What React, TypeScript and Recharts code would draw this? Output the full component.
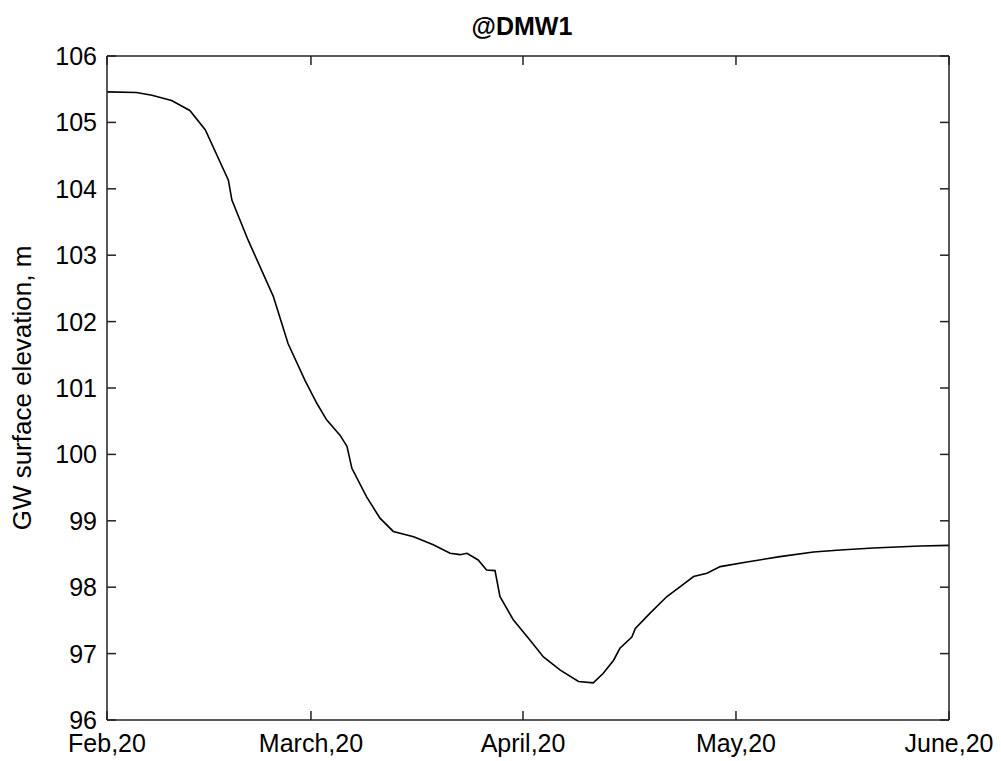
import React from 'react';
import { LineChart, Line, XAxis, YAxis } from 'recharts';

// x in days from "Feb,20" (axis spans 0..120)
const dayOffsets = [0, 4.2, 6.4, 9.2, 11.8, 14.0, 17.3, 17.8, 20.1, 23.7, 25.8, 28.2, 29.9, 31.3, 33.2, 34.2, 34.9, 37.0, 38.9, 40.8, 43.7, 46.5, 48.9, 50.3, 51.3, 52.9, 54.1, 55.3, 56.0, 57.9, 60.3, 62.2, 64.6, 67.2, 69.3, 70.7, 72.2, 73.1, 74.8, 75.3, 77.4, 79.8, 81.7, 83.6, 85.5, 87.4, 91.2, 95.9, 100.7, 104.5, 109.2, 115.9, 120];
const elevations = [105.46, 105.45, 105.41, 105.33, 105.18, 104.89, 104.13, 103.83, 103.23, 102.38, 101.67, 101.12, 100.77, 100.52, 100.29, 100.12, 99.79, 99.36, 99.04, 98.84, 98.76, 98.64, 98.51, 98.49, 98.51, 98.41, 98.26, 98.25, 97.86, 97.51, 97.20, 96.95, 96.75, 96.58, 96.56, 96.70, 96.90, 97.08, 97.25, 97.38, 97.61, 97.86, 98.01, 98.16, 98.21, 98.31, 98.38, 98.46, 98.53, 98.56, 98.59, 98.62, 98.63];

const xTickValues = [0, 29.07, 59.29, 89.64, 120];
const xTickLabels = ['Feb,20', 'March,20', 'April,20', 'May,20', 'June,20'];
const yTicks = [96, 97, 98, 99, 100, 101, 102, 103, 104, 105, 106];

const title = '@DMW1';
const yLabel = 'GW surface elevation, m';

const data = dayOffsets.map((d, i) => ({ day: d, elev: elevations[i] }));

const FONT = '"Liberation Sans", Arial, sans-serif';
const TICK_LEN = 9;
const AX = '#222';

const BottomTick = (props: any) => {
  const { x, y, payload } = props;
  const idx = xTickValues.indexOf(payload.value);
  const label = idx >= 0 ? xTickLabels[idx] : String(payload.value);
  return (
    <g>
      <line x1={x} y1={y} x2={x} y2={y - TICK_LEN} stroke={AX} strokeWidth={1.5} />
      <text x={x} y={y + 32} textAnchor="middle" fontSize={25} fontFamily={FONT} fill="#000">{label}</text>
    </g>
  );
};

const TopTick = (props: any) => {
  const { x, y } = props;
  return <line x1={x} y1={y} x2={x} y2={y + TICK_LEN} stroke={AX} strokeWidth={1.5} />;
};

const LeftTick = (props: any) => {
  const { x, y, payload } = props;
  return (
    <g>
      <line x1={x} y1={y} x2={x + TICK_LEN} y2={y} stroke={AX} strokeWidth={1.5} />
      <text x={x - 10} y={y} dy="0.36em" textAnchor="end" fontSize={25} fontFamily={FONT} fill="#000">{payload.value}</text>
    </g>
  );
};

const RightTick = (props: any) => {
  const { x, y } = props;
  return <line x1={x} y1={y} x2={x - TICK_LEN} y2={y} stroke={AX} strokeWidth={1.5} />;
};

export default function App() {
  return (
    <div style={{ position: 'relative', width: 985, height: 753, background: '#fff' }}>
      <LineChart
        width={985}
        height={753}
        data={data}
        margin={{ top: 47, right: 43, bottom: 11, left: 0 }}
      >
        <XAxis
          xAxisId="bottom"
          dataKey="day"
          type="number"
          domain={[0, 120]}
          ticks={xTickValues}
          interval={0}
          tickSize={0}
          tickMargin={0}
          tick={<BottomTick />}
          tickLine={false}
          axisLine={{ stroke: AX, strokeWidth: 1.5 }}
          height={30}
          allowDataOverflow
        />
        <XAxis
          xAxisId="top"
          orientation="top"
          dataKey="day"
          type="number"
          domain={[0, 120]}
          ticks={xTickValues}
          interval={0}
          tickSize={0}
          tickMargin={0}
          tick={<TopTick />}
          tickLine={false}
          axisLine={{ stroke: AX, strokeWidth: 1.5 }}
          height={1}
          allowDataOverflow
        />
        <YAxis
          yAxisId="left"
          type="number"
          domain={[96, 106]}
          ticks={yTicks}
          interval={0}
          tickSize={0}
          tickMargin={0}
          tick={<LeftTick />}
          tickLine={false}
          axisLine={{ stroke: AX, strokeWidth: 1.5 }}
          width={99}
          allowDataOverflow
          label={{
            value: yLabel,
            angle: -90,
            position: 'insideLeft',
            offset: 14,
            style: { textAnchor: 'middle', fontSize: 26, fontFamily: FONT, fill: '#000' },
          }}
        />
        <YAxis
          yAxisId="right"
          orientation="right"
          type="number"
          domain={[96, 106]}
          ticks={yTicks}
          interval={0}
          tickSize={0}
          tickMargin={0}
          tick={<RightTick />}
          tickLine={false}
          axisLine={{ stroke: AX, strokeWidth: 1.5 }}
          width={1}
          allowDataOverflow
        />
        <Line
          xAxisId="bottom"
          yAxisId="left"
          type="linear"
          dataKey="elev"
          stroke="#000"
          strokeWidth={1.6}
          dot={false}
          activeDot={false}
          isAnimationActive={false}
        />
      </LineChart>
      <svg
        width={985}
        height={50}
        style={{ position: 'absolute', left: 0, top: 0, pointerEvents: 'none' }}
      >
        <text x={514} y={27} textAnchor="middle" fontSize={25} fontWeight="bold" fontFamily={FONT} fill="#000">
          {title}
        </text>
      </svg>
    </div>
  );
}
